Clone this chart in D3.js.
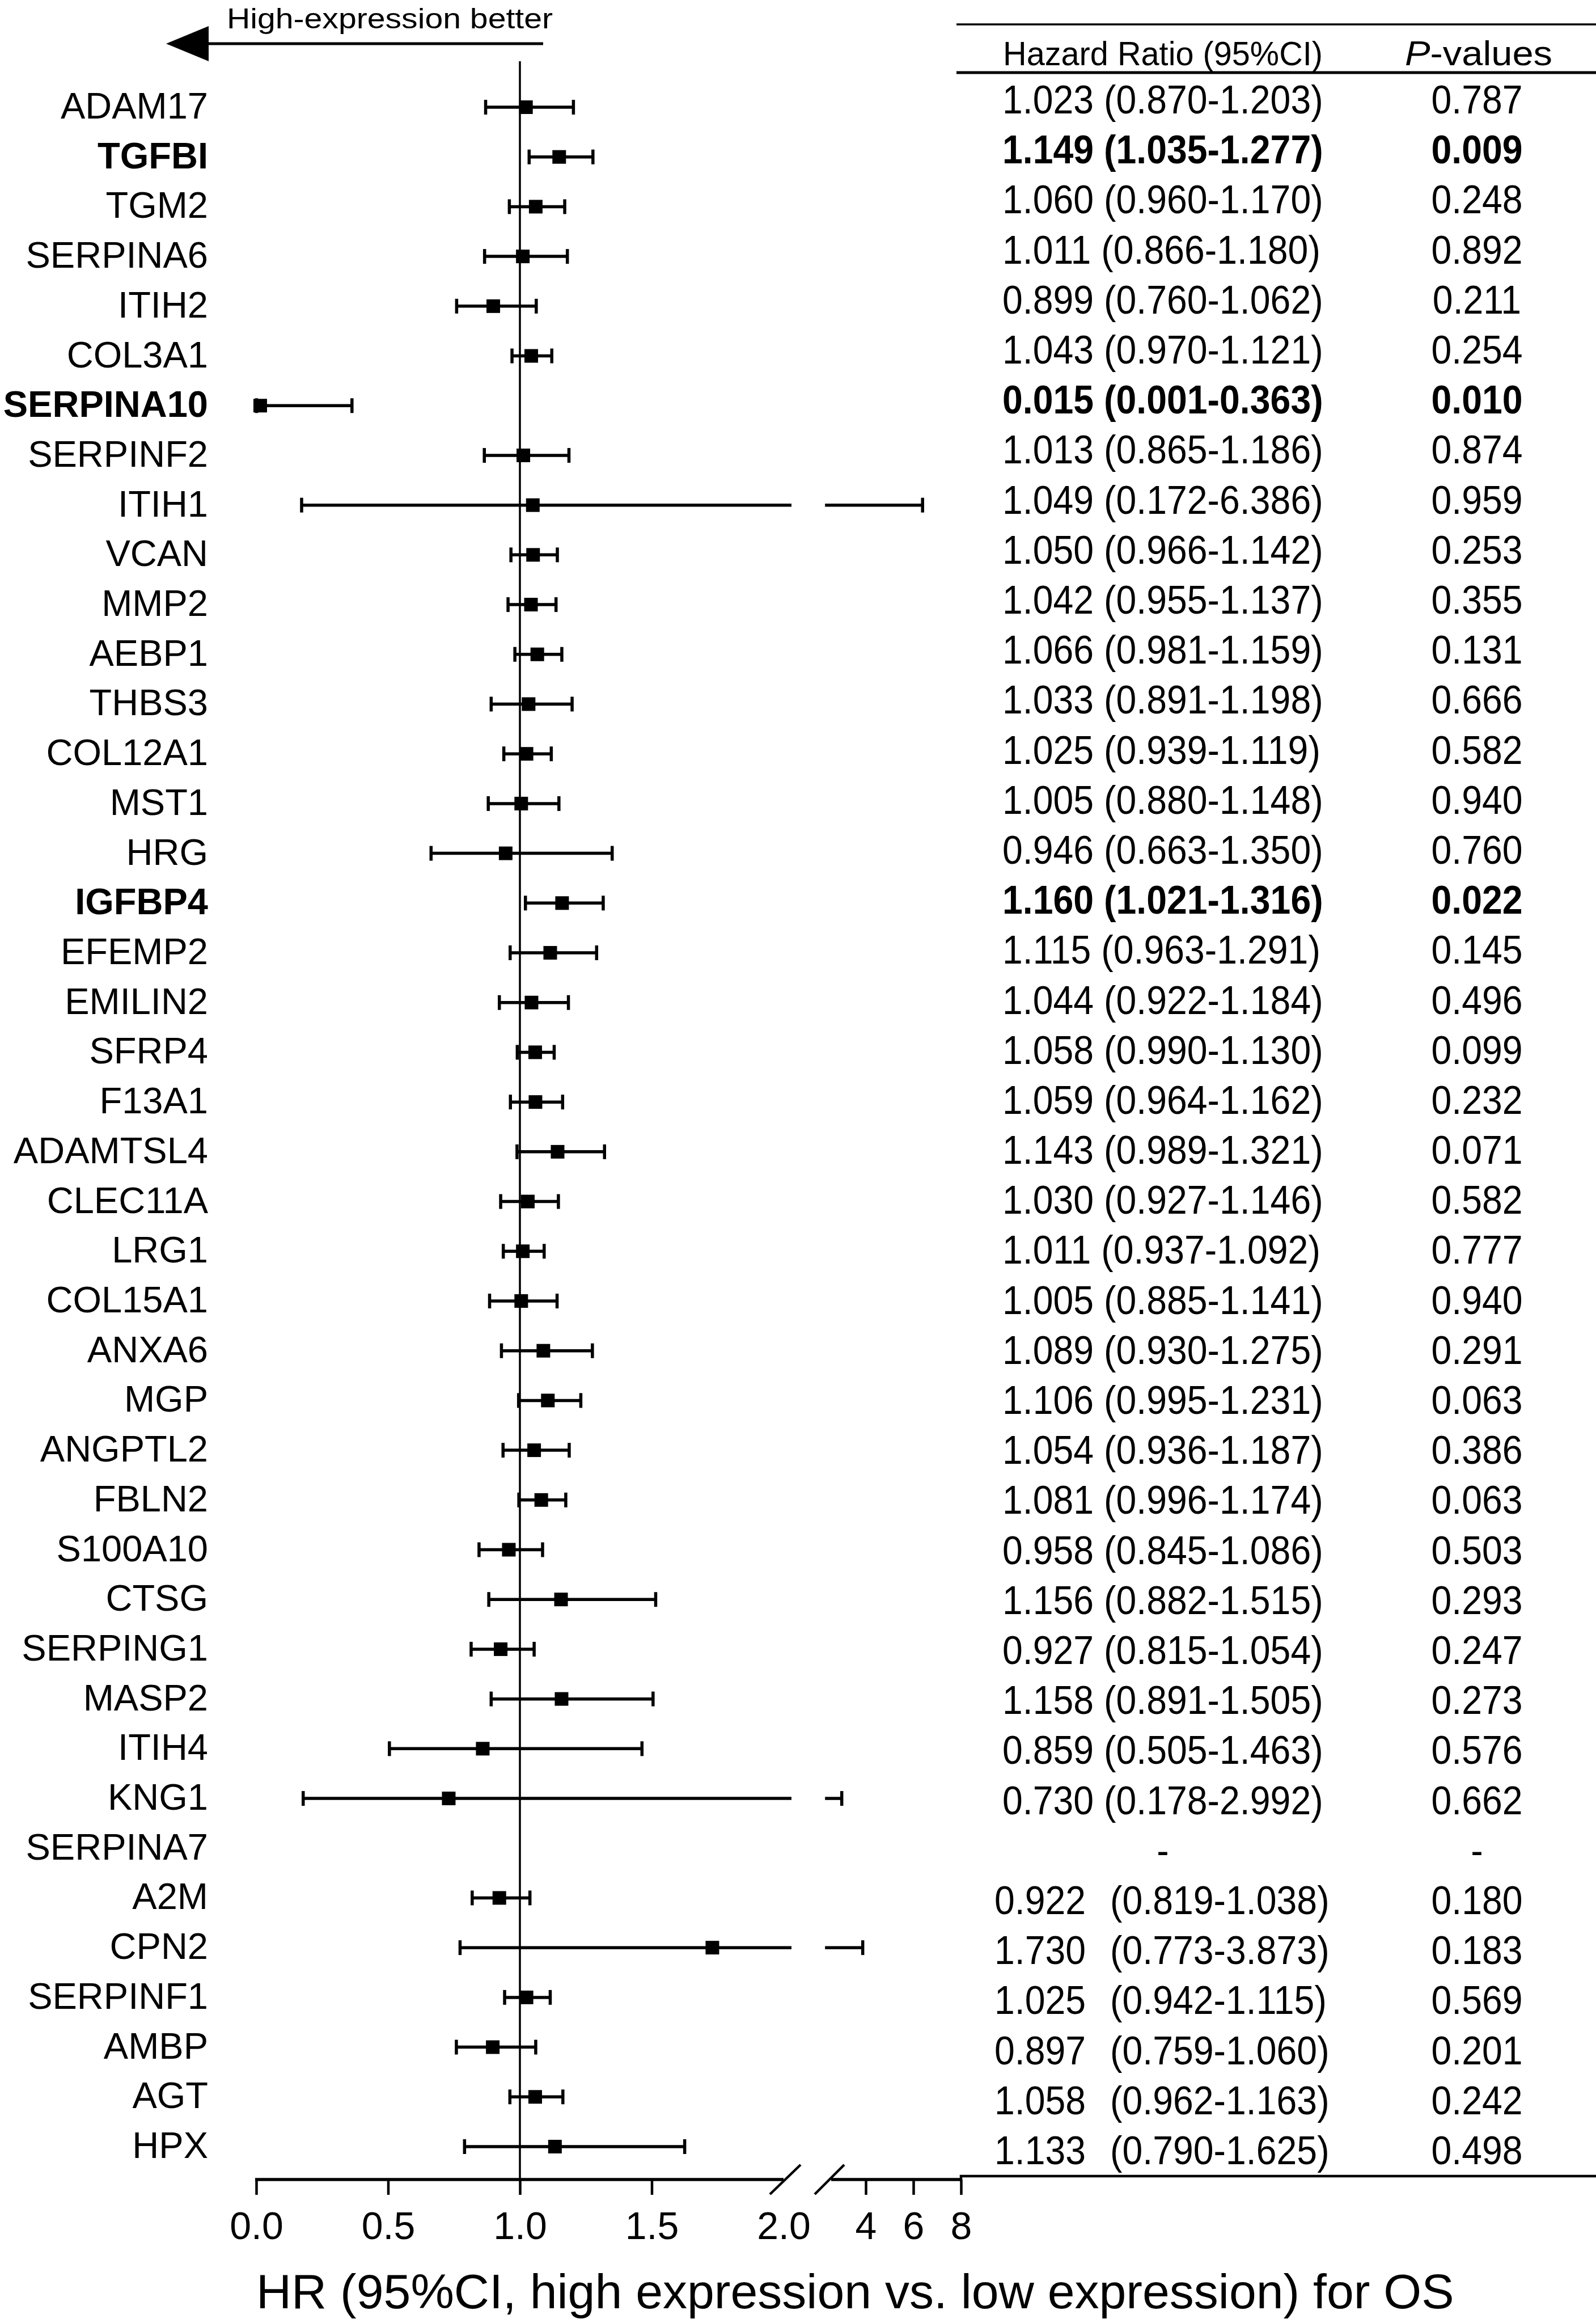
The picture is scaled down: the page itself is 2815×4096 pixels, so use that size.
<!DOCTYPE html>
<html><head><meta charset="utf-8">
<script src="https://cdn.jsdelivr.net/npm/d3@7"></script>
<style>body{margin:0;background:#fff}</style>
</head><body><svg id="c" width="2815" height="4096"></svg>
<script>
// ---------------- data ----------------
const genes = ["ADAM17","TGFBI","TGM2","SERPINA6","ITIH2","COL3A1","SERPINA10","SERPINF2","ITIH1","VCAN",
  "MMP2","AEBP1","THBS3","COL12A1","MST1","HRG","IGFBP4","EFEMP2","EMILIN2","SFRP4",
  "F13A1","ADAMTSL4","CLEC11A","LRG1","COL15A1","ANXA6","MGP","ANGPTL2","FBLN2","S100A10",
  "CTSG","SERPING1","MASP2","ITIH4","KNG1","SERPINA7","A2M","CPN2","SERPINF1","AMBP","AGT","HPX"];
const hrValues = [1.023,1.149,1.060,1.011,0.899,1.043,0.015,1.013,1.049,1.050,
  1.042,1.066,1.033,1.025,1.005,0.946,1.160,1.115,1.044,1.058,
  1.059,1.143,1.030,1.011,1.005,1.089,1.106,1.054,1.081,0.958,
  1.156,0.927,1.158,0.859,0.730,null,0.922,1.730,1.025,0.897,1.058,1.133];
const ciLower = [0.870,1.035,0.960,0.866,0.760,0.970,0.001,0.865,0.172,0.966,
  0.955,0.981,0.891,0.939,0.880,0.663,1.021,0.963,0.922,0.990,
  0.964,0.989,0.927,0.937,0.885,0.930,0.995,0.936,0.996,0.845,
  0.882,0.815,0.891,0.505,0.178,null,0.819,0.773,0.942,0.759,0.962,0.790];
const ciUpper = [1.203,1.277,1.170,1.180,1.062,1.121,0.363,1.186,6.386,1.142,
  1.137,1.159,1.198,1.119,1.148,1.350,1.316,1.291,1.184,1.130,
  1.162,1.321,1.146,1.092,1.141,1.275,1.231,1.187,1.174,1.086,
  1.515,1.054,1.505,1.463,2.992,null,1.038,3.873,1.115,1.060,1.163,1.625];
const pValues = [0.787,0.009,0.248,0.892,0.211,0.254,0.010,0.874,0.959,0.253,
  0.355,0.131,0.666,0.582,0.940,0.760,0.022,0.145,0.496,0.099,
  0.232,0.071,0.582,0.777,0.940,0.291,0.063,0.386,0.063,0.503,
  0.293,0.247,0.273,0.576,0.662,null,0.180,0.183,0.569,0.201,0.242,0.498];
const boldGenes = ["TGFBI","SERPINA10","IGFBP4"];
const spacedGenes = ["A2M","CPN2","SERPINF1","AMBP","AGT","HPX"];
const xTicksLow = [0, 0.5, 1.0, 1.5, 2.0];
const xTicksHigh = [4, 6, 8];
const headerHR = "Hazard Ratio (95%CI)";
const arrowLabel = "High-expression better";
const axisTitle = "HR (95%CI, high expression vs. low expression) for OS";

// ---------------- layout ----------------
const W = 2815, H = 4096;
const FONT = "'Liberation Sans', Arial, Helvetica, sans-serif";
const svg = d3.select("#c");
svg.append("rect").attr("width", W).attr("height", H).attr("fill", "#fff");

const xLow = d3.scaleLinear().domain([0, 2]).range([452, 1382]);
const xHigh = d3.scaleLinear().domain([4, 8]).range([1527, 1695]);
const breakLowEnd = 2.03, breakHighStart = 2.29;
const xPos = v => v <= 2 ? xLow(v) : xHigh(v);
const y = d3.scalePoint().domain(genes).range([189, 3785]);
const yTab = d3.scalePoint().domain(genes).range([175, 3791]);
const axisY = 3843;
const f3 = d3.format(".3f");

const rows = genes.map((g, i) => ({gene: g, hr: hrValues[i], lo: ciLower[i], hi: ciUpper[i],
  p: pValues[i], bold: boldGenes.includes(g), spaced: spacedGenes.includes(g)}));

// arrow
svg.append("line").attr("x1", 366).attr("x2", 958).attr("y1", 77).attr("y2", 77)
  .attr("stroke", "#000").attr("stroke-width", 5);
svg.append("path").attr("d", "M293,77 L368,46 L368,108 Z").attr("fill", "#000");
svg.append("text").attr("x", 400).attr("y", 50).attr("font-family", FONT).attr("font-size", 50)
  .attr("textLength", 575).attr("lengthAdjust", "spacingAndGlyphs").text(arrowLabel);

// reference line at HR = 1
svg.append("line").attr("x1", xLow(1)).attr("x2", xLow(1)).attr("y1", 108).attr("y2", axisY)
  .attr("stroke", "#000").attr("stroke-width", 3.5);

// gene labels
svg.append("g").selectAll("text").data(rows).join("text")
  .attr("x", 367).attr("y", d => y(d.gene) + 20)
  .attr("text-anchor", "end").attr("font-family", FONT).attr("font-size", 65)
  .attr("font-weight", d => d.bold ? "bold" : "normal").text(d => d.gene);

// error bars
const eb = svg.append("g").attr("stroke", "#000").attr("stroke-width", 5.5);
rows.filter(d => d.hr != null).forEach(d => {
  const yy = y(d.gene);
  if (d.hi <= 2) {
    eb.append("line").attr("x1", xPos(d.lo)).attr("x2", xPos(d.hi)).attr("y1", yy).attr("y2", yy);
  } else {
    eb.append("line").attr("x1", xPos(d.lo)).attr("x2", xLow(breakLowEnd)).attr("y1", yy).attr("y2", yy);
    eb.append("line").attr("x1", xHigh(breakHighStart)).attr("x2", xPos(d.hi)).attr("y1", yy).attr("y2", yy);
  }
  [d.lo, d.hi].forEach(v => eb.append("line").attr("x1", xPos(v)).attr("x2", xPos(v))
    .attr("y1", yy - 13).attr("y2", yy + 13));
});
svg.append("g").selectAll("rect").data(rows.filter(d => d.hr != null)).join("rect")
  .attr("x", d => xPos(d.hr) - 12).attr("y", d => y(d.gene) - 12)
  .attr("width", 24).attr("height", 24).attr("fill", "#000");

// x axis
const axG = svg.append("g").attr("transform", `translate(0,${axisY})`);
const axLow = axG.append("g").call(d3.axisBottom(xLow).tickValues(xTicksLow)
  .tickFormat(d3.format(".1f")).tickSize(27).tickSizeOuter(0).tickPadding(30));
const axHigh = axG.append("g").call(d3.axisBottom(xHigh).tickValues(xTicksHigh)
  .tickFormat(d3.format("d")).tickSize(27).tickSizeOuter(0).tickPadding(30));
[axLow, axHigh].forEach(a => {
  a.attr("font-family", FONT).attr("font-size", 68);
  a.select(".domain").remove();
  a.selectAll(".tick line").attr("stroke", "#000").attr("stroke-width", 4.5);
  a.selectAll(".tick text").attr("fill", "#000");
});
axLow.selectAll(".tick").filter(d => d === 2).select("line").remove();
axG.append("line").attr("x1", xLow(0) - 2).attr("x2", xLow(2)).attr("y1", 0).attr("y2", 0)
  .attr("stroke", "#000").attr("stroke-width", 5.5);
axG.append("line").attr("x1", 1466).attr("x2", xHigh(8) + 2).attr("y1", 0).attr("y2", 0)
  .attr("stroke", "#000").attr("stroke-width", 5.5);
[[1358, 1412], [1437, 1489]].forEach(([a, b]) =>
  axG.append("line").attr("x1", a).attr("y1", 26).attr("x2", b).attr("y2", -26)
    .attr("stroke", "#000").attr("stroke-width", 4.5));
svg.append("text").attr("x", 452).attr("y", 4070).attr("font-family", FONT).attr("font-size", 86)
  .text(axisTitle);

// table lines
svg.append("line").attr("x1", 1687).attr("x2", W).attr("y1", 43).attr("y2", 43)
  .attr("stroke", "#000").attr("stroke-width", 3.5);
svg.append("line").attr("x1", 1687).attr("x2", W).attr("y1", 128).attr("y2", 128)
  .attr("stroke", "#000").attr("stroke-width", 5);
svg.append("path").attr("d", `M${xHigh(8)},${axisY} V3837 H${W}`).attr("fill", "none")
  .attr("stroke", "#000").attr("stroke-width", 4.5);

// table header
svg.append("text").attr("x", 1769).attr("y", 115).attr("font-family", FONT).attr("font-size", 60)
  .attr("textLength", 564).attr("lengthAdjust", "spacingAndGlyphs").text(headerHR);
const ph = svg.append("text").attr("x", 2478).attr("y", 115).attr("font-family", FONT)
  .attr("font-size", 62).attr("textLength", 260).attr("lengthAdjust", "spacingAndGlyphs");
ph.append("tspan").attr("font-style", "italic").text("P");
ph.append("tspan").text("-values");

// table body (condensed text)
function condText(x, yy, str, anchor, bold) {
  svg.append("g").attr("transform", `translate(${x},${yy}) scale(0.92,1)`)
    .append("text").attr("text-anchor", anchor).attr("font-family", FONT).attr("font-size", 70)
    .attr("font-weight", bold ? "bold" : "normal").text(str);
}
rows.forEach(d => {
  const yy = yTab(d.gene) + 25;
  if (d.hr == null) {
    condText(2051, yy, "-", "middle", false);
    condText(2605, yy, "-", "middle", false);
    return;
  }
  if (d.spaced) {
    condText(1754, yy, f3(d.hr), "start", d.bold);
    condText(1958, yy, `(${f3(d.lo)}-${f3(d.hi)})`, "start", d.bold);
  } else {
    condText(1768, yy, `${f3(d.hr)} (${f3(d.lo)}-${f3(d.hi)})`, "start", d.bold);
  }
  condText(2605, yy, f3(d.p), "middle", d.bold);
});
</script>
</body></html>
